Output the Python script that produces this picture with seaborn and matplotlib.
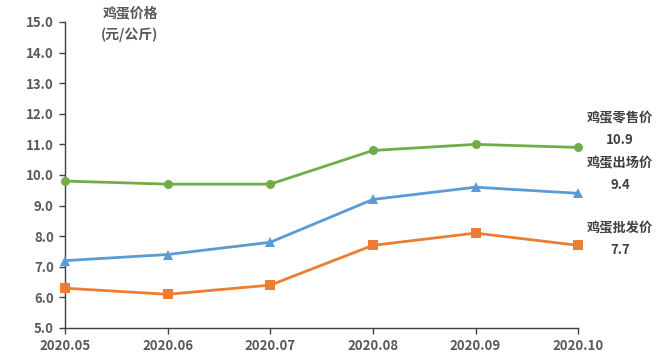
import pandas as pd
import matplotlib
matplotlib.use("Agg")
import matplotlib.pyplot as plt
import seaborn as sns

# 数据
months = ["2020.05", "2020.06", "2020.07", "2020.08", "2020.09", "2020.10"]
retail = [9.8, 9.7, 9.7, 10.8, 11.0, 10.9]
farm = [7.2, 7.4, 7.8, 9.2, 9.6, 9.4]
wholesale = [6.3, 6.1, 6.4, 7.7, 8.1, 7.7]
names = ["鸡蛋零售价", "鸡蛋出场价", "鸡蛋批发价"]

df = pd.DataFrame({"month": months, names[0]: retail, names[1]: farm, names[2]: wholesale})
df = df.melt(id_vars="month", var_name="series", value_name="price")
df["x"] = df["month"].map({m: i for i, m in enumerate(months)})

sns.set_style("white")
plt.rcParams["font.family"] = ["Noto Sans CJK SC", "DejaVu Sans"]
gray = "#595959"

fig = plt.figure(figsize=(6.63, 3.6), dpi=100)
ax = fig.add_axes([0.098, 0.089, 0.774, 0.85])

colors = {names[0]: "#70AD47", names[1]: "#5B9BD5", names[2]: "#ED7D31"}
markers = {names[0]: "o", names[1]: "^", names[2]: "s"}
sns.lineplot(data=df, x="x", y="price", hue="series", style="series",
             palette=colors, markers=markers, dashes=False,
             markersize=6.5, linewidth=2, markeredgewidth=0, ax=ax, legend=False)
for line in ax.lines:
    line.set_clip_on(False)
    line.set_zorder(3)

ax.set_xlim(0, len(months) - 1)
ax.set_ylim(5, 15)
ax.set_xticks(range(len(months)))
ax.set_xticklabels(months)
ax.set_yticks([5 + i for i in range(11)])
ax.set_yticklabels([f"{5 + i:.1f}" for i in range(11)])
ax.set_xlabel("")
ax.set_ylabel("")

for s in ["top", "right"]:
    ax.spines[s].set_visible(False)
for s in ["left", "bottom"]:
    ax.spines[s].set_color("#404040")
    ax.spines[s].set_linewidth(1)
ax.tick_params(axis="both", bottom=True, left=True, direction="out", length=4,
               width=1, color="#404040", labelsize=9.5, labelcolor=gray, pad=4)
for lab in ax.get_xticklabels() + ax.get_yticklabels():
    lab.set_fontweight("bold")

fig.text(130 / 663, 1 - 13 / 360, "鸡蛋价格", ha="center", va="center",
         fontsize=10, color=gray, fontweight="bold")
fig.text(130 / 663, 1 - 35 / 360, "(元/公斤)", ha="center", va="center",
         fontsize=10, color=gray, fontweight="bold")

ends = [(names[0], retail[-1], 118), (names[1], farm[-1], 163), (names[2], wholesale[-1], 228)]
for name, val, ypix in ends:
    fig.text(620 / 663, 1 - ypix / 360, name, ha="center", va="center",
             fontsize=9.5, color="#404040", fontweight="bold")
    fig.text(620 / 663, 1 - (ypix + 22) / 360, f"{val:.1f}", ha="center", va="center",
             fontsize=9.5, color="#404040", fontweight="bold")

fig.savefig("out.png", dpi=100)
